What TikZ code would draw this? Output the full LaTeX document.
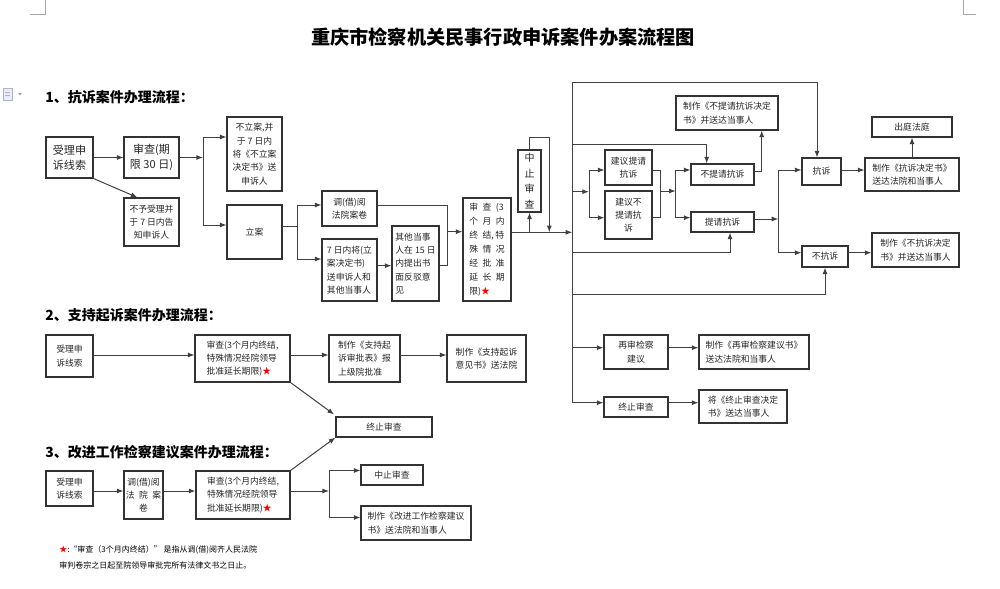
\documentclass[tikz,border=0pt]{standalone}
\usepackage{fontspec}
\setmainfont{Noto Sans CJK SC}
\usetikzlibrary{arrows.meta}
\newcommand\smtxt{\fontsize{6.6}{10}\selectfont}
\newcommand\bigtxt{\fontsize{8.3}{11.3}\selectfont}
\newcommand\mkbox[7][]{\node[box,#1,minimum width={(#5-#3)*0.75pt},minimum height={(#6-#4)*0.75pt}] (#2) at ({(#3+#5)/2},{(#4+#6)/2}) {#7};}
\newcommand\rstar{\textcolor{red}{★}}
\tikzset{
  box/.style={draw=black!80, line width=0.8pt, fill=white, inner sep=1pt, font=\smtxt, align=center, text=black!85},
  lft/.style={align=left},
  big/.style={font=\bigtxt},
  ln/.style={draw=black!75, line width=0.75pt},
  arr/.style={ln, -{Latex[length=5pt,width=3.8pt]}},
  head/.style={font=\bfseries\fontsize{10.5}{12}\selectfont, anchor=west, inner sep=0pt},
  note/.style={font=\fontsize{6}{8}\selectfont, anchor=west, inner sep=0pt},
  cornermark/.style={draw=black!35, line width=0.5pt}
}
\begin{document}
\begin{tikzpicture}[x=0.75pt,y=-0.75pt]
\useasboundingbox (0,0) rectangle (1000,589);
% page corner marks and margin icon
\draw[cornermark] (45,0) -- (45,14) -- (30,14);
\draw[cornermark] (963,0) -- (963,14) -- (976,14);
\draw[draw=black!30, fill=blue!8, line width=0.4pt] (3,88) rectangle (12,100);
\draw[draw=black!30, line width=0.4pt] (5,92) -- (10,92) (5,95) -- (10,95);
\fill[black!35] (18,93) -- (22,93) -- (20,95.5) -- cycle;

\node[font=\bfseries\fontsize{14.4}{16}\selectfont] (title) at (503,37) {重庆市检察机关民事行政申诉案件办案流程图};

\node[head] (h1) at (45,97) {1、抗诉案件办理流程：};
\node[head] (h2) at (45,315) {2、支持起诉案件办理流程：};
\node[head] (h3) at (45,452) {3、改进工作检察建议案件办理流程：};

% ---------- section 1 ----------
\mkbox[big]{s1a}{46}{137}{93}{178}{受理申\\诉线索}
\mkbox[big]{s1b}{124}{137}{179}{178}{审查(期\\限 30 日)}
\mkbox{s1c}{227}{117}{282}{191}{不立案,并\\于 7 日内\\将《不立案\\决定书》送\\申诉人}
\mkbox{s1d}{124}{198}{179}{246}{不予受理并\\于 7 日内告\\知申诉人}
\mkbox{s1e}{227}{205}{282}{259}{立案}
\mkbox{s1f}{322}{191}{377}{226}{调(借)阅\\法院案卷}
\mkbox[lft]{s1g}{322}{239}{377}{301}{7 日内将(立\\案决定书)\\送申诉人和\\其他当事人}
\mkbox[lft]{s1h}{392}{226}{439}{301}{其他当事\\人在 15 日\\内提出书\\面反驳意\\见}
\mkbox[lft,font=\fontsize{6.6}{10.5}\selectfont]{s1i}{463}{198}{511}{301}{审\enspace 查\enspace (3\\个\enspace 月\enspace 内\\终\enspace 结,\,特\\殊\enspace 情\enspace 况\\经\enspace 批\enspace 准\\延\enspace 长\enspace 期\\限)\rstar}
\mkbox[font=\fontsize{7.5}{11.6}\selectfont]{s1j}{518}{150}{541}{212}{中\\止\\审\\查}

% ---------- right part ----------
\mkbox{r1}{605}{150}{652}{185}{建议提请\\抗诉}
\mkbox{r2}{605}{191}{652}{239}{建议不\\提请抗\\诉}
\mkbox{r3}{691}{164}{754}{185}{不提请抗诉}
\mkbox{r4}{691}{212}{754}{232}{提请抗诉}
\mkbox[lft]{r5}{676}{96}{778}{130}{制作《不提请抗诉决定\\书》并送达当事人}
\mkbox{r6}{802}{158}{841}{185}{抗诉}
\mkbox{r7}{802}{246}{848}{267}{不抗诉}
\mkbox[lft]{r8}{865}{158}{959}{191}{制作《抗诉决定书》\\送达法院和当事人}
\mkbox{r9}{872}{117}{952}{137}{出庭法庭}
\mkbox[lft]{r10}{872}{233}{959}{267}{制作《不抗诉决定\\书》并送达当事人}
\mkbox{r11}{604}{335}{668}{369}{再审检察\\建议}
\mkbox[lft]{r12}{699}{335}{809}{369}{制作《再审检察建议书》\\送达法院和当事人}
\mkbox{r13}{604}{397}{668}{417}{终止审查}
\mkbox[lft]{r14}{699}{390}{787}{423}{将《终止审查决定\\书》送达当事人}

% ---------- section 2 ----------
\mkbox{s2a}{46}{335}{93}{377}{受理申\\诉线索}
\mkbox[lft]{s2b}{195}{335}{290}{382}{审查(3个月内终结,\\特殊情况经院领导\\批准延长期限)\rstar}
\mkbox[lft]{s2c}{329}{335}{400}{382}{制作《支持起\\诉审批表》报\\上级院批准}
\mkbox[lft]{s2d}{447}{335}{526}{382}{制作《支持起诉\\意见书》送法院}
\mkbox{st}{336}{417}{432}{437}{终止审查}

% ---------- section 3 ----------
\mkbox{s3a}{46}{471}{93}{506}{受理申\\诉线索}
\mkbox{s3b}{124}{471}{163}{519}{调(借)阅\\法\enspace 院\enspace 案\\卷}
\mkbox[lft]{s3c}{196}{471}{290}{519}{审查(3个月内终结,\\特殊情况经院领导\\批准延长期限)\rstar}
\mkbox{s3d}{361}{465}{423}{485}{中止审查}
\mkbox[lft]{s3e}{361}{506}{471}{540}{制作《改进工作检察建议\\书》送法院和当事人}

\node[note] (fn1) at (59,550) {\textcolor{red}{★}:“审查（3个月内终结）” 是指从调(借)阅齐人民法院};
\node[note] (fn2) at (59,565) {审判卷宗之日起至院领导审批完所有法律文书之日止。};

% ---------- connectors section 1 ----------
\draw[arr] (s1a) -- (s1b);
\draw[arr] (s1a.south east) -- ([xshift=10.5pt]s1d.north west);
\coordinate (j1) at (203,157.5);
\draw[arr] (s1b) -- (j1);
\draw[arr] (j1) |- (s1c.west |- 0,137);
\draw[arr] (j1) |- (s1e.west |- 0,225);
\coordinate (j2) at (297,226);
\draw[ln] (s1e.east |- j2) -- (j2);
\draw[arr] (j2) |- (s1f.west |- 0,205);
\draw[arr] (j2) |- (s1g.west |- 0,259);
\draw[arr] (s1g.east |- 0,265.7) -- (s1h.west |- 0,265.7);
\draw[ln] (s1f.east |- 0,205) -| (447,265.7) -- (s1h.east |- 0,265.7);
\coordinate (j3) at (447,231.7);
\draw[arr] (j3) -- (s1i.west |- j3);
\coordinate (bus) at (572.3,232.3);
\draw[arr] (s1i.east |- bus) -- (bus);
\draw[arr] (s1j.south |- bus) -- (s1j.south);
\draw[arr] (s1j.north) |- (549.3,137.3) -- (549.3,232.3);

% ---------- bus and right part ----------
\draw[ln] (572.3,82.3) -- (572.3,402.7);
\draw[arr] (572.3,82.3) -| (r6.north -| 817,0);
\draw[arr] (572.3,144) -| (r3.north -| 706.7,0);
\coordinate (j5) at (589,191.7);
\draw[arr] (572.3,191.7) -- (j5);
\draw[arr] (j5) |- (r1.west |- 0,170);
\draw[arr] (j5) |- (r2.west |- 0,217.7);
\draw[ln] (r1.east |- 0,170) -| (660,217.7) -- (r2.east |- 0,217.7);
\coordinate (j6) at (675.7,191);
\draw[arr] (660,191) -- (j6);
\draw[arr] (j6) |- (r3.west |- 0,170);
\draw[arr] (j6) |- (r4.west |- 0,217.7);
\draw[arr] (572.3,252.7) -| (r4.south -| 730,0);
\draw[arr] (r3.east |- 0,171) -| (r5.south -| 761.7,0);
\coordinate (j7) at (778.3,219);
\draw[arr] (r4.east |- j7) -- (j7);
\draw[arr] (j7) |- (r6.west |- 0,170);
\draw[arr] (j7) |- (r7.west |- 0,252.7);
\draw[arr] (572.3,294) -| (r7.south);
\draw[arr] (r6.east |- 0,170) -- (r8.west |- 0,170);
\draw[arr] (r8.north) -- (r9.south);
\draw[arr] (r7.east |- 0,252.7) -- (r10.west |- 0,252.7);
\draw[arr] (572.3,347.7) -- (r11.west |- 0,347.7);
\draw[arr] (r11.east |- 0,347.7) -- (r12.west |- 0,347.7);
\draw[arr] (572.3,402.7) -- (r13.west |- 0,402.7);
\draw[arr] (r13.east |- 0,402.7) -- (r14.west |- 0,402.7);

% ---------- connectors section 2 ----------
\draw[arr] (s2a.east |- 0,355) -- (s2b.west |- 0,355);
\draw[arr] (s2b.east |- 0,355) -- (s2c.west |- 0,355);
\draw[arr] (s2c.east |- 0,355) -- (s2d.west |- 0,355);
\draw[arr] (s2b.south east) -- ([xshift=-1pt,yshift=1.5pt]st.north west);

% ---------- connectors section 3 ----------
\draw[arr] (s3a.east |- 0,491) -- (s3b.west |- 0,491);
\draw[arr] (s3b.east |- 0,491) -- (s3c.west |- 0,491);
\coordinate (j4) at (329,491);
\draw[arr] (s3c.east |- j4) -- (j4);
\draw[arr] (j4) |- (s3d.west |- 0,470.5);
\draw[arr] (j4) |- (s3e.west |- 0,517.5);
\draw[arr] (s3c.north east) -- (st.south west);
\end{tikzpicture}
\end{document}
